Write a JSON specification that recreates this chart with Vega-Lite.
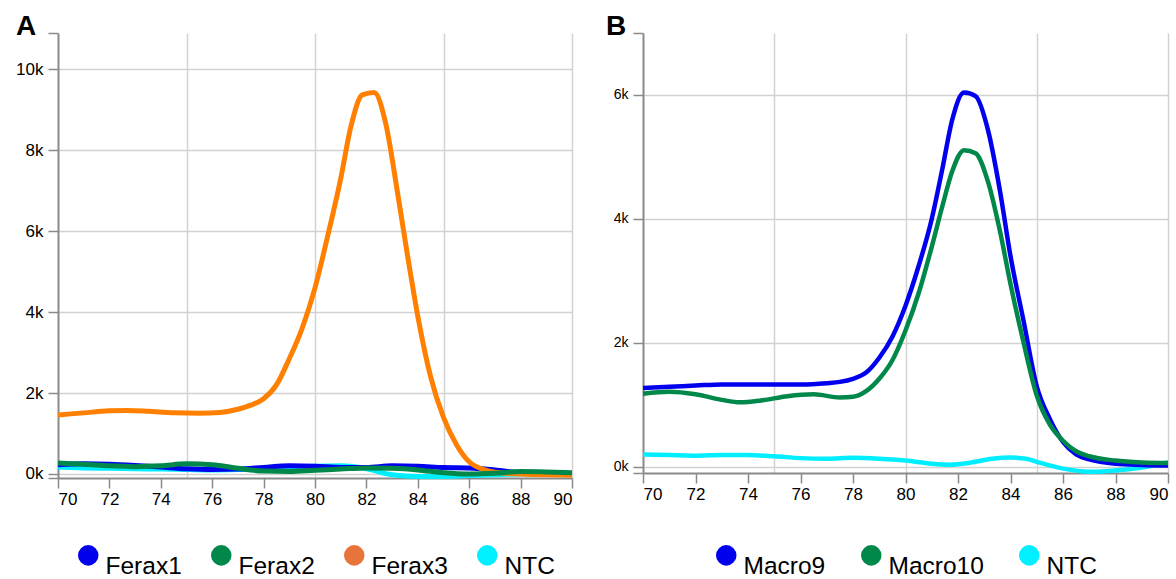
{
  "$schema": "https://vega.github.io/schema/vega-lite/v6.json",
  "background": "white",
  "padding": {"left": 15, "top": 13, "right": 5, "bottom": 0},
  "spacing": 24,
  "resolve": {"scale": {"color": "independent"}, "legend": {"color": "independent"}},
  "config": {
    "font": "Liberation Sans",
    "view": {"stroke": null},
    "axis": {
      "domainColor": "#8a8a8a", "domainWidth": 2,
      "tickColor": "#8a8a8a", "tickSize": 10, "tickWidth": 1.5,
      "gridColor": "#d2d2d2", "gridWidth": 1.5,
      "labelColor": "#000000", "labelFont": "Liberation Sans",
      "title": null
    },
    "legend": {
      "orient": "bottom", "direction": "horizontal", "title": null,
      "layout": {"anchor": "middle"},
      "symbolType": "circle", "symbolSize": 420,
      "labelFontSize": 24.5, "labelFont": "Liberation Sans", "labelColor": "#000000",
      "labelBaseline": "top", "labelOffset": 5, "columnPadding": 27, "offset": 36
    }
  },
  "datasets": {
    "a": [
      {"s": "NTC", "t": 70, "v": 170}, {"s": "NTC", "t": 71, "v": 150}, {"s": "NTC", "t": 72, "v": 140}, {"s": "NTC", "t": 73, "v": 130}, {"s": "NTC", "t": 74, "v": 120}, {"s": "NTC", "t": 75, "v": 110}, {"s": "NTC", "t": 76, "v": 100}, {"s": "NTC", "t": 77, "v": 110}, {"s": "NTC", "t": 78, "v": 130}, {"s": "NTC", "t": 79, "v": 160}, {"s": "NTC", "t": 80, "v": 190}, {"s": "NTC", "t": 81, "v": 200}, {"s": "NTC", "t": 82, "v": 130}, {"s": "NTC", "t": 83, "v": -20}, {"s": "NTC", "t": 84, "v": -60}, {"s": "NTC", "t": 85, "v": -60}, {"s": "NTC", "t": 86, "v": -40}, {"s": "NTC", "t": 87, "v": -20}, {"s": "NTC", "t": 88, "v": 0}, {"s": "NTC", "t": 89, "v": 0}, {"s": "NTC", "t": 90, "v": 0},
      {"s": "Ferax1", "t": 70, "v": 230}, {"s": "Ferax1", "t": 71, "v": 250}, {"s": "Ferax1", "t": 72, "v": 240}, {"s": "Ferax1", "t": 73, "v": 210}, {"s": "Ferax1", "t": 74, "v": 170}, {"s": "Ferax1", "t": 75, "v": 130}, {"s": "Ferax1", "t": 76, "v": 110}, {"s": "Ferax1", "t": 77, "v": 120}, {"s": "Ferax1", "t": 78, "v": 160}, {"s": "Ferax1", "t": 79, "v": 200}, {"s": "Ferax1", "t": 80, "v": 190}, {"s": "Ferax1", "t": 81, "v": 160}, {"s": "Ferax1", "t": 82, "v": 160}, {"s": "Ferax1", "t": 83, "v": 200}, {"s": "Ferax1", "t": 84, "v": 190}, {"s": "Ferax1", "t": 85, "v": 160}, {"s": "Ferax1", "t": 86, "v": 150}, {"s": "Ferax1", "t": 87, "v": 100}, {"s": "Ferax1", "t": 88, "v": 30}, {"s": "Ferax1", "t": 89, "v": 10}, {"s": "Ferax1", "t": 90, "v": 0},
      {"s": "Ferax3", "t": 70, "v": 1460}, {"s": "Ferax3", "t": 71, "v": 1510}, {"s": "Ferax3", "t": 72, "v": 1560}, {"s": "Ferax3", "t": 72.7, "v": 1570}, {"s": "Ferax3", "t": 73.5, "v": 1550}, {"s": "Ferax3", "t": 74.5, "v": 1510}, {"s": "Ferax3", "t": 75.5, "v": 1500}, {"s": "Ferax3", "t": 76.3, "v": 1520}, {"s": "Ferax3", "t": 77, "v": 1600}, {"s": "Ferax3", "t": 77.5, "v": 1700}, {"s": "Ferax3", "t": 78, "v": 1860}, {"s": "Ferax3", "t": 78.5, "v": 2200}, {"s": "Ferax3", "t": 79, "v": 2850}, {"s": "Ferax3", "t": 79.5, "v": 3600}, {"s": "Ferax3", "t": 80, "v": 4600}, {"s": "Ferax3", "t": 80.5, "v": 5900}, {"s": "Ferax3", "t": 81, "v": 7300}, {"s": "Ferax3", "t": 81.4, "v": 8600}, {"s": "Ferax3", "t": 81.84, "v": 9370}, {"s": "Ferax3", "t": 82.3, "v": 9430}, {"s": "Ferax3", "t": 82.75, "v": 8670}, {"s": "Ferax3", "t": 83.2, "v": 7000}, {"s": "Ferax3", "t": 83.6, "v": 5400}, {"s": "Ferax3", "t": 84, "v": 3900}, {"s": "Ferax3", "t": 84.5, "v": 2400}, {"s": "Ferax3", "t": 85, "v": 1400}, {"s": "Ferax3", "t": 85.5, "v": 730}, {"s": "Ferax3", "t": 86, "v": 300}, {"s": "Ferax3", "t": 86.5, "v": 120}, {"s": "Ferax3", "t": 87, "v": 40}, {"s": "Ferax3", "t": 88, "v": 0}, {"s": "Ferax3", "t": 89, "v": -20}, {"s": "Ferax3", "t": 90, "v": -30},
      {"s": "Ferax2", "t": 70, "v": 270}, {"s": "Ferax2", "t": 71, "v": 240}, {"s": "Ferax2", "t": 72, "v": 200}, {"s": "Ferax2", "t": 73, "v": 180}, {"s": "Ferax2", "t": 74, "v": 200}, {"s": "Ferax2", "t": 75, "v": 250}, {"s": "Ferax2", "t": 76, "v": 230}, {"s": "Ferax2", "t": 77, "v": 140}, {"s": "Ferax2", "t": 78, "v": 70}, {"s": "Ferax2", "t": 79, "v": 60}, {"s": "Ferax2", "t": 80, "v": 90}, {"s": "Ferax2", "t": 81, "v": 120}, {"s": "Ferax2", "t": 82, "v": 150}, {"s": "Ferax2", "t": 83, "v": 140}, {"s": "Ferax2", "t": 84, "v": 100}, {"s": "Ferax2", "t": 85, "v": 30}, {"s": "Ferax2", "t": 86, "v": 0}, {"s": "Ferax2", "t": 87, "v": 20}, {"s": "Ferax2", "t": 88, "v": 60}, {"s": "Ferax2", "t": 89, "v": 50}, {"s": "Ferax2", "t": 90, "v": 30}
    ],
    "b": [
      {"s": "NTC", "t": 70, "v": 200}, {"s": "NTC", "t": 71, "v": 190}, {"s": "NTC", "t": 72, "v": 180}, {"s": "NTC", "t": 73, "v": 190}, {"s": "NTC", "t": 74, "v": 190}, {"s": "NTC", "t": 75, "v": 170}, {"s": "NTC", "t": 76, "v": 140}, {"s": "NTC", "t": 77, "v": 130}, {"s": "NTC", "t": 78, "v": 145}, {"s": "NTC", "t": 79, "v": 130}, {"s": "NTC", "t": 80, "v": 100}, {"s": "NTC", "t": 81, "v": 50}, {"s": "NTC", "t": 81.7, "v": 35}, {"s": "NTC", "t": 82.5, "v": 70}, {"s": "NTC", "t": 83.3, "v": 130}, {"s": "NTC", "t": 84, "v": 150}, {"s": "NTC", "t": 84.6, "v": 130}, {"s": "NTC", "t": 85, "v": 80}, {"s": "NTC", "t": 86, "v": -30}, {"s": "NTC", "t": 87, "v": -80}, {"s": "NTC", "t": 88, "v": -60}, {"s": "NTC", "t": 89, "v": -10}, {"s": "NTC", "t": 90, "v": 70},
      {"s": "Macro9", "t": 70, "v": 1270}, {"s": "Macro9", "t": 71, "v": 1290}, {"s": "Macro9", "t": 72, "v": 1310}, {"s": "Macro9", "t": 73, "v": 1330}, {"s": "Macro9", "t": 74, "v": 1330}, {"s": "Macro9", "t": 75, "v": 1330}, {"s": "Macro9", "t": 76, "v": 1330}, {"s": "Macro9", "t": 77, "v": 1350}, {"s": "Macro9", "t": 77.5, "v": 1370}, {"s": "Macro9", "t": 78, "v": 1420}, {"s": "Macro9", "t": 78.5, "v": 1520}, {"s": "Macro9", "t": 79, "v": 1760}, {"s": "Macro9", "t": 79.5, "v": 2100}, {"s": "Macro9", "t": 80, "v": 2600}, {"s": "Macro9", "t": 80.5, "v": 3240}, {"s": "Macro9", "t": 81, "v": 4000}, {"s": "Macro9", "t": 81.4, "v": 4800}, {"s": "Macro9", "t": 81.78, "v": 5600}, {"s": "Macro9", "t": 82.23, "v": 6040}, {"s": "Macro9", "t": 82.67, "v": 5980}, {"s": "Macro9", "t": 83.15, "v": 5420}, {"s": "Macro9", "t": 83.6, "v": 4450}, {"s": "Macro9", "t": 84, "v": 3400}, {"s": "Macro9", "t": 84.5, "v": 2350}, {"s": "Macro9", "t": 85, "v": 1300}, {"s": "Macro9", "t": 85.5, "v": 770}, {"s": "Macro9", "t": 86, "v": 400}, {"s": "Macro9", "t": 86.5, "v": 200}, {"s": "Macro9", "t": 87, "v": 120}, {"s": "Macro9", "t": 88, "v": 50}, {"s": "Macro9", "t": 89, "v": 30}, {"s": "Macro9", "t": 90, "v": 20},
      {"s": "Macro10", "t": 70, "v": 1180}, {"s": "Macro10", "t": 71, "v": 1210}, {"s": "Macro10", "t": 72, "v": 1170}, {"s": "Macro10", "t": 73, "v": 1080}, {"s": "Macro10", "t": 73.7, "v": 1040}, {"s": "Macro10", "t": 74.5, "v": 1070}, {"s": "Macro10", "t": 75.5, "v": 1140}, {"s": "Macro10", "t": 76.5, "v": 1170}, {"s": "Macro10", "t": 77.5, "v": 1120}, {"s": "Macro10", "t": 78, "v": 1130}, {"s": "Macro10", "t": 78.5, "v": 1220}, {"s": "Macro10", "t": 79, "v": 1420}, {"s": "Macro10", "t": 79.5, "v": 1720}, {"s": "Macro10", "t": 80, "v": 2200}, {"s": "Macro10", "t": 80.5, "v": 2800}, {"s": "Macro10", "t": 81, "v": 3550}, {"s": "Macro10", "t": 81.4, "v": 4200}, {"s": "Macro10", "t": 81.78, "v": 4770}, {"s": "Macro10", "t": 82.23, "v": 5110}, {"s": "Macro10", "t": 82.67, "v": 5060}, {"s": "Macro10", "t": 83.15, "v": 4590}, {"s": "Macro10", "t": 83.6, "v": 3800}, {"s": "Macro10", "t": 84, "v": 2950}, {"s": "Macro10", "t": 84.5, "v": 2000}, {"s": "Macro10", "t": 85, "v": 1150}, {"s": "Macro10", "t": 85.5, "v": 680}, {"s": "Macro10", "t": 86, "v": 420}, {"s": "Macro10", "t": 86.5, "v": 250}, {"s": "Macro10", "t": 87, "v": 170}, {"s": "Macro10", "t": 88, "v": 100}, {"s": "Macro10", "t": 89, "v": 70}, {"s": "Macro10", "t": 90, "v": 60}
    ]
  },
  "hconcat": [
    {
      "width": 514, "height": 445,
      "title": {"text": "A", "anchor": "start", "frame": "group", "fontSize": 28, "fontWeight": "bold", "color": "#000000", "dx": -42, "offset": -31, "baseline": "alphabetic"},
      "data": {"name": "a"},
      "layer": [
        {
          "mark": {"type": "line", "strokeWidth": 5, "interpolate": "monotone"},
          "encoding": {
            "x": {"field": "t", "type": "quantitative", "scale": {"domain": [70, 90], "nice": false, "zero": false},
                  "axis": {"values": [70, 72, 74, 76, 78, 80, 82, 84, 86, 88, 90], "grid": false, "labelFontSize": 17, "labelPadding": 3}},
            "y": {"field": "v", "type": "quantitative", "scale": {"domain": [-100, 10900], "nice": false, "zero": false},
                  "axis": {"values": [0, 2000, 4000, 6000, 8000, 10000], "labelExpr": "datum.value / 1000 + 'k'", "labelFontSize": 17, "labelPadding": 5}},
            "color": {"field": "s", "type": "nominal",
                      "scale": {"domain": ["Ferax1", "Ferax2", "Ferax3", "NTC"], "range": ["#0000ee", "#00884a", "#ff8000", "#00eeff"]},
                      "legend": {"columnPadding": 27, "encode": {"symbols": {"update": {"fill": {"signal": "datum.value === 'Ferax1' ? '#0000ee' : datum.value === 'Ferax2' ? '#00884a' : datum.value === 'Ferax3' ? '#e8743b' : '#00f0ff'"}, "strokeWidth": {"value": 0}, "opacity": {"value": 1}}}}}}
          }
        },
        {
          "mark": {"type": "point", "opacity": 0},
          "encoding": {
            "x": {"field": "t", "type": "quantitative", "axis": {"values": [75, 80, 85, 90], "grid": true, "labels": false, "ticks": false, "domain": false, "orient": "bottom"}},
            "y": {"field": "v", "type": "quantitative", "axis": {"values": [-100, 10900], "grid": false, "labels": false, "ticks": true, "domain": false, "orient": "left"}}
          }
        }
      ],
      "resolve": {"axis": {"x": "independent", "y": "independent"}}
    },
    {
      "width": 525, "height": 440,
      "title": {"text": "B", "anchor": "start", "frame": "group", "fontSize": 28, "fontWeight": "bold", "color": "#000000", "dx": -37, "offset": -31, "baseline": "alphabetic"},
      "data": {"name": "b"},
      "layer": [
        {
          "mark": {"type": "line", "strokeWidth": 4.5, "interpolate": "monotone"},
          "encoding": {
            "x": {"field": "t", "type": "quantitative", "scale": {"domain": [70, 90], "nice": false, "zero": false},
                  "axis": {"values": [70, 72, 74, 76, 78, 80, 82, 84, 86, 88, 90], "grid": false, "labelFontSize": 17, "labelPadding": 3}},
            "y": {"field": "v", "type": "quantitative", "scale": {"domain": [-100, 7000], "nice": false, "zero": false},
                  "axis": {"values": [0, 2000, 4000, 6000], "labelExpr": "datum.value / 1000 + 'k'", "labelFontSize": 14, "labelPadding": 5}},
            "color": {"field": "s", "type": "nominal",
                      "scale": {"domain": ["Macro9", "Macro10", "NTC"], "range": ["#0000ee", "#00884a", "#00eeff"]},
                      "legend": {"columnPadding": 33, "offset": 41, "encode": {"symbols": {"update": {"fill": {"signal": "datum.value === 'Macro9' ? '#0000ee' : datum.value === 'Macro10' ? '#00884a' : '#00f0ff'"}, "strokeWidth": {"value": 0}, "opacity": {"value": 1}}}}}}
          }
        },
        {
          "mark": {"type": "point", "opacity": 0},
          "encoding": {
            "x": {"field": "t", "type": "quantitative", "axis": {"values": [75, 80, 85, 90], "grid": true, "labels": false, "ticks": false, "domain": false, "orient": "bottom"}},
            "y": {"field": "v", "type": "quantitative", "axis": {"values": [-100, 7000], "grid": false, "labels": false, "ticks": true, "domain": false, "orient": "left"}}
          }
        }
      ],
      "resolve": {"axis": {"x": "independent", "y": "independent"}}
    }
  ]
}
